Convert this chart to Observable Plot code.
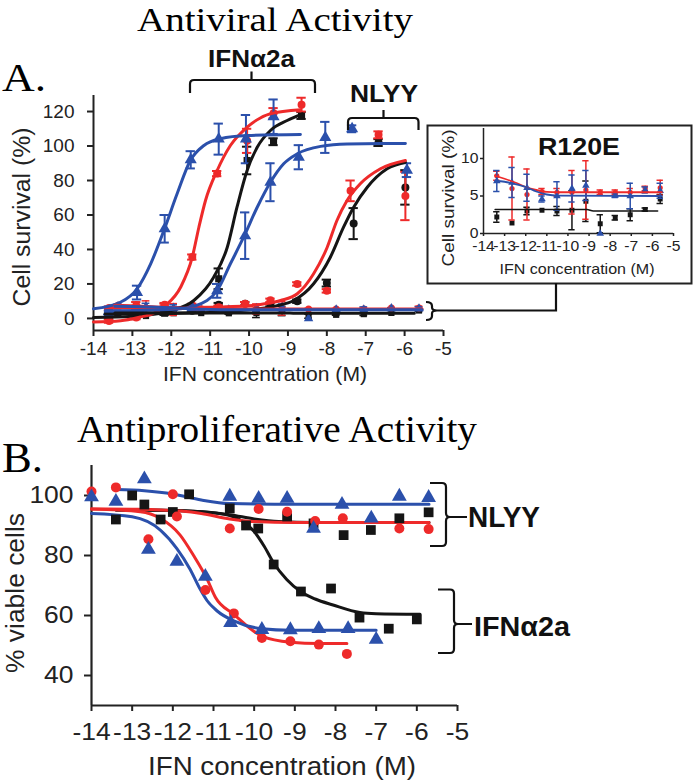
<!DOCTYPE html>
<html><head><meta charset="utf-8">
<script src="https://cdn.jsdelivr.net/npm/d3@7"></script>
<script src="https://cdn.jsdelivr.net/npm/@observablehq/plot@0.6"></script>
<style>
body{margin:0;background:#fff}
#root{position:relative;width:693px;height:782px;overflow:hidden;background:#fff}
#root > svg{position:absolute}
</style></head><body><div id="root"></div><script>
// ---------- tick labels ----------
const xTicks = [-14, -13, -12, -11, -10, -9, -8, -7, -6, -5];
const aYTicks = [0, 20, 40, 60, 80, 100, 120];
const rYTicks = [0, 5, 10];
const bYTicks = [40, 60, 80, 100];

// ---------- Panel A: fitted curves ----------
const aBlue1CurveX = [-14, -13.31, -12.88, -12.53, -12.19, -11.85, -11.51, -11.16, -10.74, -10.05, -8.68];
const aBlue1CurveY = [5.6, 9.4, 17.2, 31.7, 51, 72.3, 91.6, 100.3, 104.2, 106.1, 106.7];
const aRedCurveX = [-14, -13.3, -12.8, -12.5, -12.15, -11.76, -11.46, -11.29, -11.12, -10.82, -10.48, -10.05, -9.45, -8.68];
const aRedCurveY = [-2, -1.3, 0.8, 2.5, 7.5, 18.1, 35.5, 52.9, 68.4, 85.8, 100.3, 110.9, 118.7, 121];
const aBlackCurveX = [-14, -13, -12.5, -12, -11.42, -10.91, -10.56, -10.31, -10.05, -9.79, -9.45, -9.02, -8.63];
const aBlackCurveY = [0.5, 1.2, 2.2, 4.5, 10.4, 23.9, 41.3, 64.5, 85.8, 99.3, 109, 114.8, 118.7];
const aBlue2CurveX = [-13.7, -12.5, -11.76, -11.08, -10.82, -10.48, -10.14, -9.79, -9.45, -9.11, -8.76, -8.16, -7.48, -5.98];
const aBlue2CurveY = [4.5, 4.8, 5.6, 10.4, 16.2, 31.7, 47.1, 64.5, 79, 89.7, 95.5, 99.8, 101.2, 101.5];
const aRedNCurveX = [-13.7, -11, -10, -9.6, -9.19, -8.76, -8.34, -7.99, -7.74, -7.48, -7.14, -6.62, -5.98];
const aRedNCurveY = [6, 6.5, 7.3, 8.5, 10.4, 14.3, 25.9, 41.3, 56.8, 68.4, 78.1, 86.8, 91.6];
const aBlackNCurveX = [-13.7, -11, -10, -9.3, -8.85, -8.34, -7.91, -7.57, -7.31, -6.96, -6.45, -5.98];
const aBlackNCurveY = [2.5, 3.5, 5, 7.3, 10.4, 20.1, 35.5, 52.9, 64.5, 76.1, 86.8, 90.6];

// ---------- Panel A: data points with error (+/-) ----------
const aBlackX = [-13.6, -12.9, -12.17, -11.46, -10.78, -10.05, -9.37, -8.65];
const aBlackY = [1, 1.5, 3, 5, 23, 91.6, 102.5, 117.7];
const aBlackE = [1.5, 1.5, 1, 1, 6, 8, 2, 2];
const aRedX = [-13.6, -12.9, -12.17, -11.46, -10.82, -10.05, -9.37, -8.65];
const aRedY = [-1.5, 0.5, 7.5, 35.6, 84, 103, 119, 124];
const aRedE = [1, 1, 1, 1.5, 1.5, 7, 3, 4];
const aBlue1X = [-13.6, -12.88, -12.17, -11.5, -10.78, -10.08, -9.37];
const aBlue1Y = [4, 15, 52, 92, 104, 104, 117];
const aBlue1E = [2, 4, 8, 5, 9, 14, 10];
const aBlue2X = [-13.6, -11.46, -10.82, -10.1, -9.45, -8.72, -8.04, -7.35, -5.94];
const aBlue2Y = [4, 6, 16, 48, 79, 93.5, 105, 110, 86];
const aBlue2E = [2, 1, 4, 13.5, 11, 7, 9, 2, 4];
const aRedNX = [-13.6, -12.9, -12.17, -11.46, -10.78, -10.1, -9.45, -8.76, -8.0, -7.39, -6.67, -5.98];
const aRedNY = [6, 7.5, 8, 7.5, 6.5, 8.5, 10.5, 20, 16, 74, 106.5, 71];
const aRedNE = [1, 2, 1, 1, 1, 1, 1, 1, 1, 6, 2, 14];
const aBlackNX = [-13.6, -12.9, -12.17, -11.46, -10.78, -10.1, -9.45, -8.76, -8.0, -7.31, -6.67, -5.98];
const aBlackNY = [2.5, 3, 4, 4.5, 8, 8.5, 8, 10, 20.5, 55, 102, 76];
const aBlackNE = [1, 1, 1, 1, 1, 1, 1, 1, 2, 9, 2, 10];

// ---------- R120E (inset, also drawn at bottom of panel A) ----------
const rX = [-13.37, -12.65, -11.94, -11.23, -10.52, -9.81, -9.15, -8.47, -7.76, -7.05, -6.34, -5.63];
const rRedY = [7.7, 6.0, 5.2, 5.6, 5.5, 5.5, 5.8, 5.5, 5.5, 5.5, 6.0, 6.1];
const rRedE = [0.6, 4.2, 3.4, 0.4, 0.5, 2.9, 3.9, 0.3, 0.3, 0.5, 0.3, 1.0];
const rBlueY = [7.0, 6.8, 6.1, 4.6, 5.0, 6.0, 6.4, 0, 5.1, 5.0, 5.8, 5.7];
const rBlueE = [1.4, 2.0, 1.8, 0.4, 1.9, 1.8, 2.0, 0, 0.3, 1.7, 0.4, 1.0];
const rBlackY = [2.2, 1.4, 3.0, 3.1, 3.0, 3.1, 4.3, 1.3, 2.1, 2.5, 3.2, 4.6];
const rBlackE = [0.7, 0, 0.5, 0, 0.6, 2.6, 2.7, 1.2, 0.3, 0.8, 0.2, 0.6];
const rRedCurveX = [-13.45, -13, -12.5, -12, -11.5, -11, -10.5, -5.55];
const rRedCurveY = [7.7, 7.3, 6.8, 6.2, 5.8, 5.55, 5.5, 5.5];
const rBlueCurveX = [-13.45, -13, -12.5, -12, -11.5, -11, -10.5, -5.55];
const rBlueCurveY = [7.0, 6.9, 6.6, 6.2, 5.6, 5.2, 5.05, 5.0];
const rBlackCurveX = [-13.45, -9.1, -8.8, -5.75];
const rBlackCurveY = [3.2, 3.2, 3.0, 3.0];

// ---------- Panel B: fitted curves ----------
const bBlueNCurveX = [-13.4, -12.7, -12, -11.3, -10.6, -9.5, -5.7];
const bBlueNCurveY = [102, 101.6, 100.5, 98.5, 97.3, 97.1, 97.1];
const bRedNCurveX = [-14, -13, -12.3, -11.8, -11.3, -10.6, -10, -9, -5.7];
const bRedNCurveY = [95.5, 95.4, 95.2, 94.8, 94, 92.2, 91.3, 91, 91];
const bBlackNCurveX = [-13.4, -12.3, -11.3, -10.6, -10, -9.4, -8.5, -5.7];
const bBlackNCurveY = [95.2, 95.1, 94.6, 93.6, 92.2, 91.3, 91, 91];
const bRedCurveX = [-14, -12.8, -12.31, -11.82, -11.49, -11.16, -10.95, -10.5, -9.81, -9.11, -8.4, -7.72];
const bRedCurveY = [95.5, 94.6, 92.4, 86.8, 80, 72.2, 66, 60.4, 53.1, 51.1, 50.7, 50.7];
const bBlueCurveX = [-14, -13, -12.3, -11.9, -11.58, -11.33, -11.16, -10.91, -10.5, -9.81, -9.11, -7.0];
const bBlueCurveY = [94, 92.9, 88.4, 82.3, 75.5, 68.8, 65, 61.5, 58.2, 55.6, 55.1, 55.1];
const bBlackCurveX = [-13.4, -12.3, -11.3, -10.6, -10.3, -10.0, -9.75, -9.52, -9.2, -8.86, -8.5, -8.06, -7.4, -7.0, -5.92];
const bBlackCurveY = [95.2, 95.1, 94.6, 93.3, 91.5, 88, 83, 77.5, 72, 68, 65.5, 63.5, 61, 60.6, 60.4];

// ---------- Panel B: data points ----------
const bBlueX = [-14, -13.4, -12.7, -12.6, -11.9, -11.2, -10.6, -10.58, -9.89, -9.81, -9.19, -9.11, -8.54, -8.41, -7.84, -7.69, -7.12, -7.0, -6.43, -5.71];
const bBlueY = [99.5, 98, 105.5, 82, 78, 73, 99.7, 57.6, 99, 55.3, 99, 55.2, 89, 55.6, 97, 55.6, 92.4, 52, 99.7, 99.3];
const bRedX = [-14, -13.4, -12.6, -12.0, -11.9, -11.2, -10.6, -10.5, -9.89, -9.81, -9.19, -9.11, -8.5, -8.41, -7.82, -7.72, -6.43, -5.71];
const bRedY = [101.3, 102.7, 85.4, 100.4, 93, 68.5, 89, 60.7, 95.5, 52.5, 94.6, 51.4, 91.5, 50.3, 92.4, 47.2, 89, 88.8];
const bBlackX = [-13.4, -13.0, -12.7, -12.3, -12.0, -11.6, -10.6, -10.2, -9.9, -9.52, -9.19, -8.85, -8.54, -8.11, -7.8, -7.41, -7.13, -6.69, -6.43, -6.0, -5.71];
const bBlackY = [92, 100, 97, 92, 94.5, 100.4, 95.7, 90, 89, 77, 93, 68, 90.7, 69, 86.8, 59.3, 88.5, 55.6, 92.4, 58.7, 94.4];

// ---------- colours ----------
const RED = "#ee2a2a", BLUE = "#2b50ab", BLACK = "#151515";

const rows = (xs, ys, es) => xs.map((x, i) => ({x, y: ys[i], e: es ? es[i] : 0}));

function points(data, color, symbol, r, cap, sw) {
  const bars = data.filter(d => d.e > 0);
  return [
    Plot.ruleX(bars, {x: "x", y1: d => d.y - d.e, y2: d => d.y + d.e, stroke: color, strokeWidth: sw}),
    Plot.ruleY(bars, {y: d => d.y + d.e, x1: d => d.x - cap, x2: d => d.x + cap, stroke: color, strokeWidth: sw}),
    Plot.ruleY(bars, {y: d => d.y - d.e, x1: d => d.x - cap, x2: d => d.x + cap, stroke: color, strokeWidth: sw}),
    Plot.dot(data, {x: "x", y: "y", r, fill: color, stroke: "none", symbol})
  ];
}
function curve(xs, ys, color, w) {
  return Plot.line(rows(xs, ys), {x: "x", y: "y", stroke: color, strokeWidth: w, curve: "monotone-x"});
}
function place(svg, left, top) {
  svg.style.position = "absolute";
  svg.style.left = left + "px";
  svg.style.top = top + "px";
  svg.style.overflow = "visible";
  svg.style.background = "transparent";
  document.getElementById("root").appendChild(svg);
  return svg;
}
function styleTicks(svg, sw) {
  svg.querySelectorAll('[aria-label$="axis tick"]').forEach(g => g.setAttribute("stroke-width", sw));
  svg.querySelectorAll('g.tick line').forEach(l => l.setAttribute("stroke-width", sw));
}
function stretchLabels(svg, k) {
  svg.querySelectorAll('[aria-label$="tick label"] text, g.tick text').forEach(t => {
    t.setAttribute("transform", (t.getAttribute("transform") || "") + ` scale(${k},1)`);
  });
}
const FONT = "Liberation Sans, Arial, sans-serif";
const fmt = d => String(d);

// ================= Panel A =================
const svgA = Plot.plot({
  width: 450, height: 300, marginLeft: 93, marginRight: 7, marginTop: 35, marginBottom: 30,
  style: {fontFamily: FONT, fontSize: "19px", color: "#222"},
  x: {domain: [-14, -5], ticks: xTicks, tickFormat: fmt, tickSize: 6, tickPadding: 5, label: null},
  y: {domain: [-7, 129.3], ticks: aYTicks, tickFormat: fmt, tickSize: 6, tickPadding: 13, label: null},
  marks: [
    Plot.ruleX([-14], {stroke: "#222", strokeWidth: 2}),
    Plot.ruleY([-7], {stroke: "#222", strokeWidth: 2}),
    ...points(rows(aBlackX, aBlackY, aBlackE), BLACK, "square", 4, 0.12, 2),
    ...points(rows(aBlackNX, aBlackNY, aBlackNE), BLACK, "circle", 4, 0.12, 2),
    ...points(rows(aRedX, aRedY, aRedE), RED, "circle", 4, 0.12, 2),
    ...points(rows(aRedNX, aRedNY, aRedNE), RED, "circle", 4, 0.12, 2),
    ...points(rows(aBlue1X, aBlue1Y, aBlue1E), BLUE, "triangle", 4.5, 0.12, 2),
    ...points(rows(aBlue2X, aBlue2Y, aBlue2E), BLUE, "triangle", 4.5, 0.12, 2),
    ...points(rows(rX, rBlackY, rBlackE), BLACK, "square", 3.5, 0.1, 1.5),
    ...points(rows(rX, rRedY, rRedE), RED, "circle", 3.5, 0.1, 1.5),
    ...points(rows(rX, rBlueY, rBlueE), BLUE, "triangle", 3.5, 0.1, 1.5),
    curve(aBlackNCurveX, aBlackNCurveY, BLACK, 3),
    curve(aRedNCurveX, aRedNCurveY, RED, 3),
    curve(aBlackCurveX, aBlackCurveY, BLACK, 3),
    curve(aRedCurveX, aRedCurveY, RED, 3),
    curve(aBlue2CurveX, aBlue2CurveY, BLUE, 3),
    curve(aBlue1CurveX, aBlue1CurveY, BLUE, 3),
    curve(rBlackCurveX, rBlackCurveY, BLACK, 3),
    curve(rRedCurveX, rRedCurveY, RED, 3),
    curve(rBlueCurveX, rBlueCurveY, BLUE, 3)
  ]
});
styleTicks(svgA, 2);
place(svgA, 0, 60);

// ================= Inset R120E =================
const svgR = Plot.plot({
  width: 258, height: 158, marginLeft: 53, marginRight: 15, marginTop: 6, marginBottom: 47,
  style: {fontFamily: FONT, fontSize: "14px", color: "#222"},
  x: {domain: [-14, -5], ticks: xTicks, tickFormat: fmt, tickSize: 3, tickPadding: 5, label: null},
  y: {domain: [0, 14], ticks: rYTicks, tickFormat: fmt, tickSize: 3, tickPadding: 2, label: null},
  marks: [
    Plot.ruleX([-14], {stroke: "#222", strokeWidth: 1.5}),
    Plot.ruleY([0], {stroke: "#222", strokeWidth: 1.5}),
    ...points(rows(rX, rBlackY, rBlackE), BLACK, "square", 2.8, 0.15, 1.5),
    ...points(rows(rX, rRedY, rRedE), RED, "circle", 2.6, 0.15, 1.5),
    ...points(rows(rX, rBlueY, rBlueE), BLUE, "triangle", 2.8, 0.15, 1.5),
    curve(rBlackCurveX, rBlackCurveY, BLACK, 1.5),
    curve(rRedCurveX, rRedCurveY, RED, 1.8),
    curve(rBlueCurveX, rBlueCurveY, BLUE, 1.8)
  ]
});
styleTicks(svgR, 1.5);
stretchLabels(svgR, 1.12);
place(svgR, 430, 122);

// ================= Panel B =================
const svgB = Plot.plot({
  width: 470, height: 300, marginLeft: 91, marginRight: 13, marginTop: 15, marginBottom: 45,
  style: {fontFamily: FONT, fontSize: "23px", color: "#222"},
  x: {domain: [-14, -5], ticks: xTicks, tickFormat: fmt, tickSize: 6, tickPadding: 12, label: null},
  y: {domain: [30, 110], ticks: bYTicks, tickFormat: fmt, tickSize: 7, tickPadding: 11, label: null},
  marks: [
    Plot.ruleX([-14], {stroke: "#222", strokeWidth: 2.2}),
    Plot.ruleY([30], {stroke: "#222", strokeWidth: 2.2}),
    curve(bBlackCurveX, bBlackCurveY, BLACK, 3),
    curve(bBlackNCurveX, bBlackNCurveY, BLACK, 3),
    curve(bRedCurveX, bRedCurveY, RED, 3),
    curve(bRedNCurveX, bRedNCurveY, RED, 3),
    curve(bBlueCurveX, bBlueCurveY, BLUE, 3),
    curve(bBlueNCurveX, bBlueNCurveY, BLUE, 3),
    Plot.dot(rows(bBlackX, bBlackY), {x: "x", y: "y", r: 5.5, fill: BLACK, symbol: "square"}),
    Plot.dot(rows(bRedX, bRedY), {x: "x", y: "y", r: 5, fill: RED, symbol: "circle"}),
    Plot.dot(rows(bBlueX, bBlueY), {x: "x", y: "y", r: 5.5, fill: BLUE, symbol: "triangle"})
  ]
});
styleTicks(svgB, 2);
stretchLabels(svgB, 1.15);
place(svgB, 0, 450);

// ================= Overlay: titles, labels, brackets =================
const ov = d3.create("svg").attr("width", 693).attr("height", 782)
  .style("left", "0px").style("top", "0px").style("pointer-events", "none");
function txt(s, o) {
  const t = ov.append("text").text(s)
    .attr("font-family", o.family || FONT)
    .attr("font-size", o.size)
    .attr("font-weight", o.weight || "normal")
    .attr("fill", o.fill || "#111")
    .attr("text-anchor", o.anchor || "start");
  if (o.len) t.attr("textLength", o.len).attr("lengthAdjust", "spacingAndGlyphs");
  if (o.rotate) t.attr("transform", `translate(${o.x},${o.y}) rotate(${o.rotate})`);
  else t.attr("x", o.x).attr("y", o.y);
  return t;
}
const SERIF = "Liberation Serif, Times New Roman, serif";
txt("Antiviral Activity", {x: 137, y: 30.5, size: 34, family: SERIF, len: 276, fill: "#000"});
txt("A.", {x: 2, y: 91, size: 40, family: SERIF, len: 44, fill: "#000"});
txt("IFNα2a", {x: 208, y: 67, size: 23, weight: "bold", len: 87});
txt("NLYY", {x: 350, y: 102, size: 23, weight: "bold", len: 68});
txt("Cell survival (%)", {x: 30, y: 217, size: 23, anchor: "middle", rotate: -90, len: 179, fill: "#222"});
txt("IFN concentration (M)", {x: 265, y: 381, size: 21, anchor: "middle", len: 204, fill: "#222"});
// inset
ov.append("rect").attr("x", 427.5).attr("y", 125.5).attr("width", 264).attr("height", 158)
  .attr("fill", "none").attr("stroke", "#222").attr("stroke-width", 2);
txt("R120E", {x: 538, y: 155, size: 23, weight: "bold", len: 82});
txt("Cell survival (%)", {x: 454, y: 198, size: 17, anchor: "middle", rotate: -90, len: 137, fill: "#222"});
txt("IFN concentration (M)", {x: 577, y: 274, size: 15, anchor: "middle", len: 155, fill: "#222"});
// panel B
txt("Antiproliferative Activity", {x: 77, y: 442, size: 38, family: SERIF, len: 400, fill: "#000"});
txt("B.", {x: 2, y: 472, size: 42, family: SERIF, len: 41, fill: "#000"});
txt("% viable cells", {x: 24, y: 593, size: 26, anchor: "middle", rotate: -90, len: 160, fill: "#222"});
txt("IFN concentration (M)", {x: 282, y: 775, size: 26, anchor: "middle", len: 268, fill: "#222"});
txt("NLYY", {x: 468, y: 527, size: 29, weight: "bold", len: 72});
txt("IFNα2a", {x: 474, y: 636, size: 27, weight: "bold", len: 96});

const brackets = [
  "M190,93 V84 Q190,80 194,80 H311 Q315,80 315,84 V93 M251.5,80 V71.5",
  "M348,130 V122 Q348,118 352,118 H414.5 Q418.5,118 418.5,122 V130 M383.5,118 V110",
  "M426,302 Q432,302 432,306 V307.5 Q432,310.5 437,310.5 Q432,310.5 432,313.5 V316 Q432,320 426,320",
  "M437,310.5 H556 V283",
  "M430,483 H442 Q446,483 446,487 V513 Q446,517 450,517 Q446,517 446,521 V542 Q446,546 442,546 H430 M450,517 H467",
  "M438,589.5 H450 Q454,589.5 454,593.5 V620 Q454,624 458,624 Q454,624 454,628 V649 Q454,653 450,653 H438 M458,624 H472"
];
brackets.forEach(d => ov.append("path").attr("d", d).attr("fill", "none").attr("stroke", "#111").attr("stroke-width", 2.2));
place(ov.node(), 0, 0);
</script></body></html>
